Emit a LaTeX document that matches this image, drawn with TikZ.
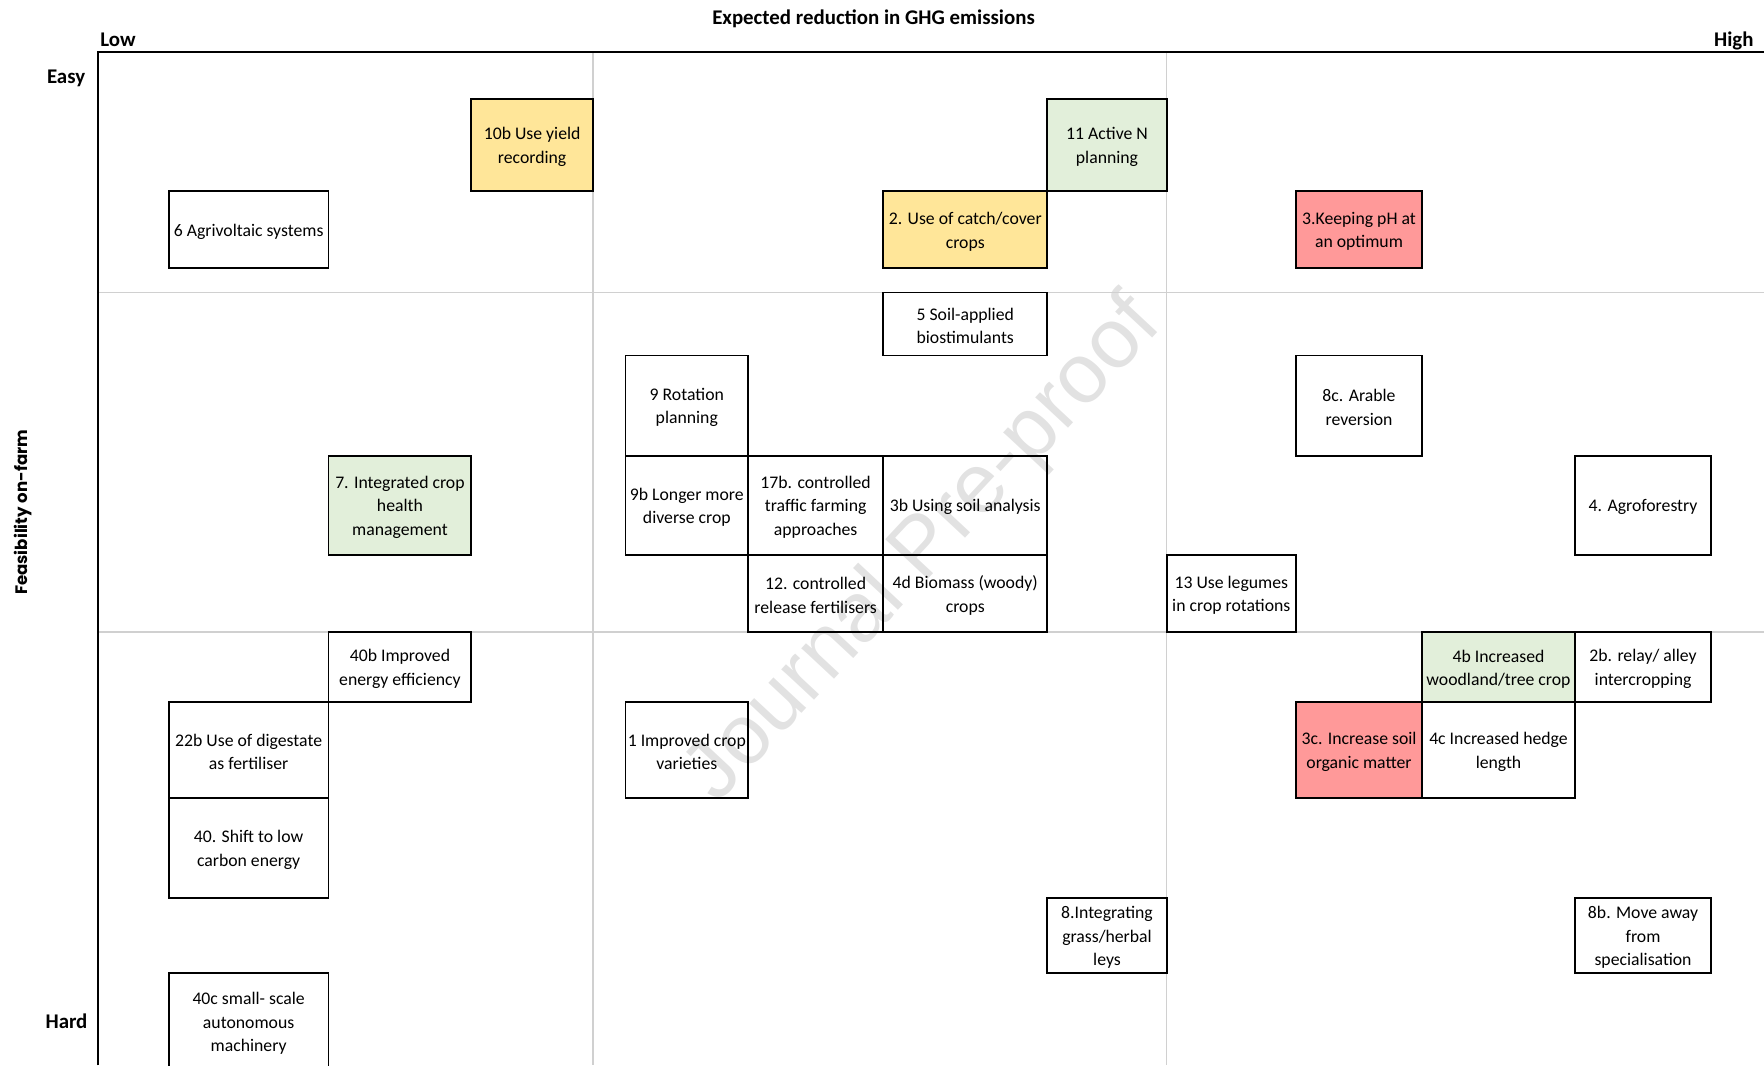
\documentclass[tikz,border=0pt]{standalone}
\definecolor{MYellow}{HTML}{FFE699}
\definecolor{MGreen}{HTML}{E2EFDA}
\definecolor{MRed}{HTML}{FF9999}
\definecolor{MGrid}{HTML}{D0D0D0}
\definecolor{MMark}{HTML}{E2E2E2}
\usepackage{fontspec}
\setmainfont{Carlito}
\newfontfamily\axisfont{Poppins}
\newfontfamily\markfont{Liberation Sans}
\usepackage{tikz}
\usetikzlibrary{fit,positioning}

\begin{document}
\begin{tikzpicture}[x=0.025cm,y=-0.025cm,
    cell/.style={rectangle,draw=black,line width=1.2pt,inner sep=0pt},
    celltext/.style={align=center,inner sep=0pt,yshift=-0.045cm,
                     font=\fontsize{11.2}{14.9}\selectfont},
    axislab/.style={inner sep=0pt,font=\fontsize{13.2}{15}\selectfont\bfseries},
    gridline/.style={draw=MGrid,line width=1pt}]
    \useasboundingbox (0,0) rectangle (1568,947);
    \clip (0,0) rectangle (1568,947);
    % watermark
    \node[rotate=47,text=MMark,inner sep=0pt,
          font=\markfont\fontsize{53.5}{60}\selectfont] (mark) at (822,489) {Journal Pre-proof};
    % quadrants and frame
    \draw[gridline] (527,46) -- (527,947) (1037,46) -- (1037,947)
                    (87,260) -- (1568,260) (87,562) -- (1568,562);
    \draw[line width=1.4pt] (87,947) -- (87,46) -- (1568,46);
    % axis labels
    \node[axislab,anchor=base] (title) at (776.5,22) {Expected reduction in GHG emissions};
    \node[axislab,anchor=base west] (low) at (89,41) {Low};
    \node[axislab,anchor=base east] (high) at (1559,41) {High};
    \node[axislab,anchor=base east] (easy) at (76,74) {Easy};
    \node[axislab,anchor=base east] (hard) at (78,914.5) {Hard};
    \node[rotate=90,inner sep=0pt,font=\axisfont\bfseries\fontsize{10.5}{12}\selectfont]
          (feas) at (20.5,455.5) {Feasibility on-farm};
    % measures
    \node[cell,fill=MYellow,fit={(419,88) (527,170)},
          label={[celltext]center:10b Use yield\\recording}] (m10b) {};
    \node[cell,fill=MGreen,fit={(931,88) (1037,170)},
          label={[celltext]center:11 Active N\\planning}] (m11) {};
    \node[cell,fit={(150,170) (292,238)},
          label={[celltext]center:6 Agrivoltaic systems}] (m6) {};
    \node[cell,fill=MYellow,fit={(785,170) (931,238)},
          label={[celltext]center:2. Use of catch/cover\\crops}] (m2) {};
    \node[cell,fill=MRed,fit={(1152,170) (1264,238)},
          label={[celltext]center:3.Keeping pH at\\an optimum}] (m3) {};
    \node[cell,fit={(785,260) (931,316)},
          label={[celltext]center:5 Soil-applied\\biostimulants}] (m5) {};
    \node[cell,fit={(556,316) (665,405)},
          label={[celltext]center:9 Rotation\\planning}] (m9) {};
    \node[cell,fit={(1152,316) (1264,405)},
          label={[celltext]center:8c. Arable\\reversion}] (m8c) {};
    \node[cell,fill=MGreen,fit={(292,405) (419,493)},
          label={[celltext]center:7. Integrated crop\\health\\management}] (m7) {};
    \node[cell,fit={(556,405) (665,493)},
          label={[celltext]center:9b Longer more\\diverse crop}] (m9b) {};
    \node[cell,fit={(665,405) (785,493)},
          label={[celltext]center:17b. controlled\\traffic farming\\approaches}] (m17b) {};
    \node[cell,fit={(785,405) (931,493)},
          label={[celltext]center:3b Using soil analysis}] (m3b) {};
    \node[cell,fit={(1400,405) (1521,493)},
          label={[celltext]center:4. Agroforestry}] (m4) {};
    \node[cell,fit={(665,493) (785,562)},
          label={[celltext]center:12. controlled\\release fertilisers}] (m12) {};
    \node[cell,fit={(785,493) (931,562)},
          label={[celltext]center:4d Biomass (woody)\\crops}] (m4d) {};
    \node[cell,fit={(1037,493) (1152,562)},
          label={[celltext]center:13 Use legumes\\in crop rotations}] (m13) {};
    \node[cell,fit={(292,562) (419,624)},
          label={[celltext]center:40b Improved\\energy efficiency}] (m40b) {};
    \node[cell,fill=MGreen,fit={(1264,562) (1400,624)},
          label={[celltext]center:4b Increased\\woodland/tree crop}] (m4b) {};
    \node[cell,fit={(1400,562) (1521,624)},
          label={[celltext]center:2b. relay/ alley\\intercropping}] (m2b) {};
    \node[cell,fit={(150,624) (292,709)},
          label={[celltext]center:22b Use of digestate\\as fertiliser}] (m22b) {};
    \node[cell,fit={(556,624) (665,709)},
          label={[celltext]center:1 Improved crop\\varieties}] (m1) {};
    \node[cell,fill=MRed,fit={(1152,624) (1264,709)},
          label={[celltext]center:3c. Increase soil\\organic matter}] (m3c) {};
    \node[cell,fit={(1264,624) (1400,709)},
          label={[celltext]center:4c Increased hedge\\length}] (m4c) {};
    \node[cell,fit={(150,709) (292,798)},
          label={[celltext]center:40. Shift to low\\carbon energy}] (m40) {};
    \node[cell,fit={(931,798) (1037,865)},
          label={[celltext]center:8.Integrating\\grass/herbal\\leys}] (m8) {};
    \node[cell,fit={(1400,798) (1521,865)},
          label={[celltext]center:8b. Move away\\from\\specialisation}] (m8b) {};
    \node[cell,fit={(150,865) (292,951)},
          label={[celltext]center:40c small- scale\\autonomous\\machinery}] (m40c) {};
\end{tikzpicture}
\end{document}
